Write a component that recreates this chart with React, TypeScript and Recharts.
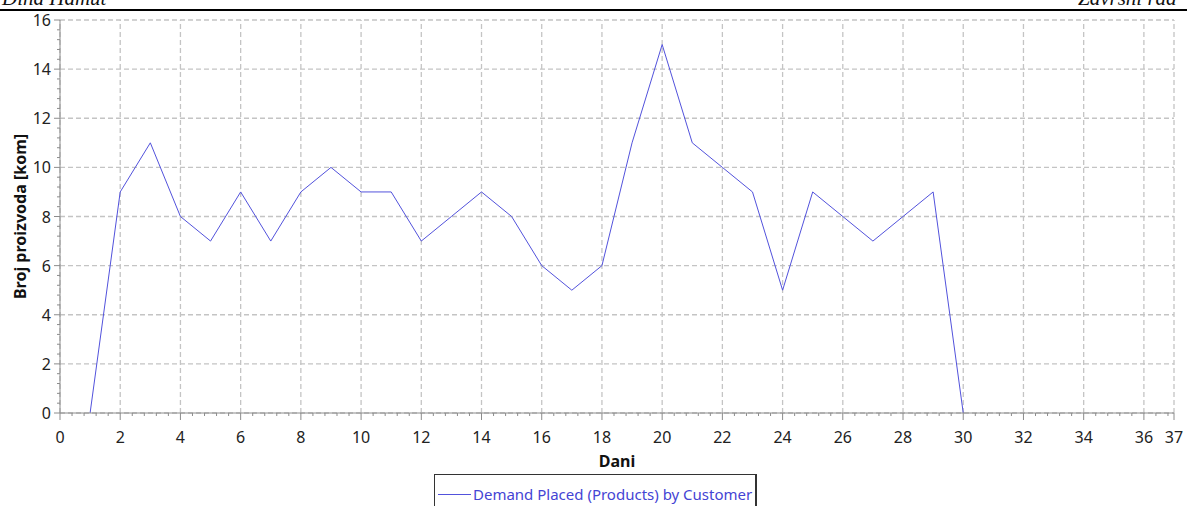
import React from "react"
import { CartesianGrid, Line, LineChart, ReferenceLine, XAxis, YAxis } from "recharts"

const days = [1, 2, 3, 4, 5, 6, 7, 8, 9, 10, 11, 12, 13, 14, 15, 16, 17, 18, 19, 20, 21, 22, 23, 24, 25, 26, 27, 28, 29, 30]
const demand = [0, 9, 11, 8, 7, 9, 7, 9, 10, 9, 9, 7, 8, 9, 8, 6, 5, 6, 11, 15, 11, 10, 9, 5, 9, 8, 7, 8, 9, 0]

const xMajor = [0, 2, 4, 6, 8, 10, 12, 14, 16, 18, 20, 22, 24, 26, 28, 30, 32, 34, 36, 37]
const yMajor = [0, 2, 4, 6, 8, 10, 12, 14, 16]

const seriesName = "Demand Placed (Products) by Customer"
const xTitle = "Dani"
const yTitle = "Broj proizvoda [kom]"

// minor ticks every 0.4, like the original axis
const xTicks = [...Array.from({ length: 93 }, (_, k) => Math.round(k * 4) / 10), 37]
const yTicks = Array.from({ length: 41 }, (_, k) => Math.round(k * 4) / 10)

const data = days.map((d, i) => ({ day: d, value: demand[i] }))

const font = "'Noto Sans', 'Open Sans', sans-serif"
const lineColor = "#5252dc"
const gridColor = "#c4c4c4"
const axisColor = "#8c8c8c"

const XTick = (props: any) => {
  const { x, y, payload } = props
  const v = payload.value
  const major = xMajor.includes(v)
  return (
    <g>
      <line x1={x} x2={x} y1={y} y2={y + (major ? 7 : 3)} stroke={axisColor} />
      {major && (
        <text x={x} y={y + 30} textAnchor="middle" fontSize={16} fontFamily={font} fill="#222">
          {v}
        </text>
      )}
    </g>
  )
}

const YTick = (props: any) => {
  const { x, y, payload } = props
  const v = payload.value
  const major = yMajor.includes(v)
  return (
    <g>
      <line x1={x - (major ? 6 : 3)} x2={x} y1={y} y2={y} stroke={axisColor} />
      {major && (
        <text x={x - 9} y={y + 6} textAnchor="end" fontSize={16} fontFamily={font} fill="#222">
          {v}
        </text>
      )}
    </g>
  )
}

export default function App() {
  return (
    <div style={{ position: "absolute", left: 0, top: 0, width: 1187, height: 506, overflow: "hidden", background: "#fff" }}>
      <div style={{ position: "absolute", left: 0, top: 0, width: 1187, height: 8, overflow: "hidden" }}>
        <span style={{ position: "absolute", left: 2, top: -14, fontFamily: "'Liberation Serif', serif", fontStyle: "italic", fontSize: 21, color: "#111", whiteSpace: "nowrap" }}>
          Dina Hamut
        </span>
        <span style={{ position: "absolute", left: 1078, top: -14, fontFamily: "'Liberation Serif', serif", fontStyle: "italic", fontSize: 21, color: "#111", whiteSpace: "nowrap" }}>
          Završni rad
        </span>
      </div>
      <div style={{ position: "absolute", left: 0, top: 9, width: 1187, height: 1.5, background: "#000" }} />

      <div style={{ position: "absolute", left: 0, top: 0 }}>
        <LineChart width={1187} height={506} data={data} margin={{ top: 20, right: 13, bottom: 33, left: 0 }}>
          <CartesianGrid horizontal={false} vertical={false} />
          {xMajor.map((v) => (
            <ReferenceLine key={`vx-${v}`} x={v} stroke={gridColor} strokeWidth={1.3} strokeDasharray="5 3" />
          ))}
          {yMajor.map((v) => (
            <ReferenceLine key={`hy-${v}`} y={v} stroke={gridColor} strokeWidth={1.3} strokeDasharray="5 3" />
          ))}
          <XAxis
            dataKey="day"
            type="number"
            domain={[0, 37]}
            ticks={xTicks}
            interval={0}
            tickSize={0}
            tickMargin={0}
            tickLine={false}
            tick={<XTick />}
            height={60}
            stroke={axisColor}
            allowDataOverflow
            label={{
              content: (p: any) => {
                const vb = p.viewBox
                return (
                  <text x={vb.x + vb.width / 2} y={vb.y + 54} textAnchor="middle" fontSize={16} fontWeight="bold" fontFamily={font} fill="#111">
                    {xTitle}
                  </text>
                )
              },
            }}
          />
          <YAxis
            type="number"
            domain={[0, 16]}
            ticks={yTicks}
            interval={0}
            tickSize={0}
            tickMargin={0}
            tickLine={false}
            tick={<YTick />}
            width={60}
            stroke={axisColor}
            allowDataOverflow
            label={{
              content: (p: any) => {
                const vb = p.viewBox
                const cy = vb.y + vb.height / 2
                return (
                  <text x={26} y={cy} transform={`rotate(-90 26 ${cy})`} textAnchor="middle" fontSize={16} fontWeight="bold" fontFamily={font} fill="#111">
                    {yTitle}
                  </text>
                )
              },
            }}
          />
          <Line type="linear" dataKey="value" name={seriesName} stroke={lineColor} strokeWidth={1} dot={false} isAnimationActive={false} />
        </LineChart>
      </div>

      <div style={{ position: "absolute", left: 434, top: 474, width: 320, height: 40, border: "1px solid #333", borderRightWidth: 2, background: "#fff" }}>
        <div style={{ position: "absolute", left: 3, top: 19, width: 33, height: 1, background: lineColor }} />
        <span style={{ position: "absolute", left: 38, top: 9, fontFamily: font, fontSize: 15, color: "#4444d4", whiteSpace: "nowrap" }}>
          {seriesName}
        </span>
      </div>
    </div>
  )
}
